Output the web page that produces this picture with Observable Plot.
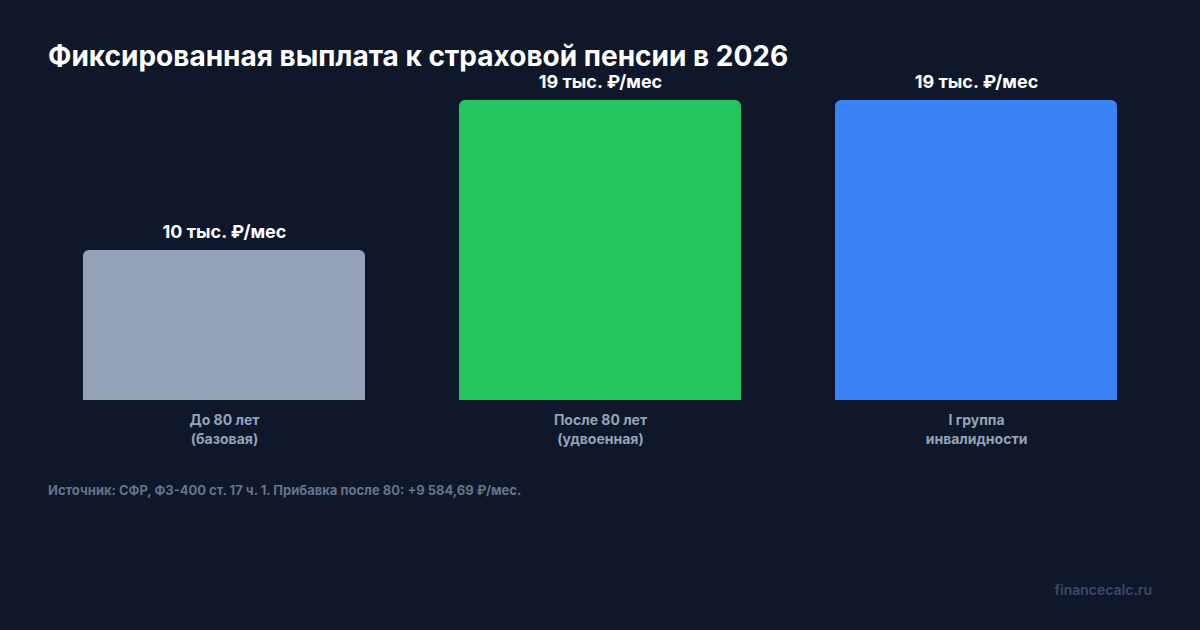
<!DOCTYPE html>
<html>
<head>
<meta charset="utf-8">
<script src="https://cdn.jsdelivr.net/npm/d3@7"></script>
<script src="https://cdn.jsdelivr.net/npm/@observablehq/plot@0.6"></script>
<style>
  html, body { margin: 0; padding: 0; background: #0f172a; }
  body { width: 1200px; height: 630px; overflow: hidden; font-family: Inter, "Noto Sans", sans-serif; }
  #wrap { position: relative; width: 1200px; height: 630px; }
  #title { position: absolute; left: 48px; top: 45px; font-size: 28px; line-height: 0.85; font-weight: 700; color: #ffffff; white-space: nowrap; }
  #source { position: absolute; left: 48px; top: 484px; font-size: 13px; line-height: 1; font-weight: 700; color: #64748b; white-space: nowrap; }
  #brand { position: absolute; right: 48px; top: 583px; font-size: 14px; line-height: 1; font-weight: 600; color: #3c4a63; white-space: nowrap; }
  #chart { position: absolute; left: 0; top: 0; }
</style>
</head>
<body>
<div id="wrap">
  <div id="chart"></div>
  <div id="title"></div>
  <div id="source"></div>
  <div id="brand"></div>
</div>
<script>
const titleText = "Фиксированная выплата к страховой пенсии в 2026";
const sourceText = "Источник: СФР, ФЗ-400 ст. 17 ч. 1. Прибавка после 80: +9 584,69 ₽/мес.";
const brandText = "financecalc.ru";

const categories = ["До 80 лет\n(базовая)", "После 80 лет\n(удвоенная)", "I группа\nинвалидности"];
const values = [9584.69, 19169.38, 19169.38];
const valueLabels = ["10 тыс. ₽/мес", "19 тыс. ₽/мес", "19 тыс. ₽/мес"];
const barColors = ["#94a3b8", "#22c55e", "#3b82f6"];

const data = categories.map((c, i) => ({category: c, value: values[i], label: valueLabels[i]}));

document.getElementById("title").textContent = titleText;
document.getElementById("source").textContent = sourceText;
document.getElementById("brand").textContent = brandText;

const chart = Plot.plot({
  width: 1200,
  height: 630,
  marginTop: 100,
  marginBottom: 230,
  marginLeft: 48,
  marginRight: 48,
  style: {background: "transparent", fontFamily: "Inter, 'Noto Sans', sans-serif"},
  x: {domain: categories, paddingInner: 0.25, paddingOuter: 0.093, round: false, label: null},
  y: {domain: [0, d3.max(values)], axis: null},
  color: {domain: categories, range: barColors},
  marks: [
    Plot.barY(data, {x: "category", y: "value", fill: "category", ry1: 6}),
    Plot.text(data, {x: "category", y: "value", text: "label", dy: -18, fill: "#ffffff", fontSize: 18, fontWeight: 700}),
    Plot.axisX({tickSize: 0, tickPadding: 11, fontSize: 14, fontWeight: 700, fill: "#94a3b8", lineHeight: 1.35, label: null})
  ]
});
document.getElementById("chart").appendChild(chart);
</script>
</body>
</html>
